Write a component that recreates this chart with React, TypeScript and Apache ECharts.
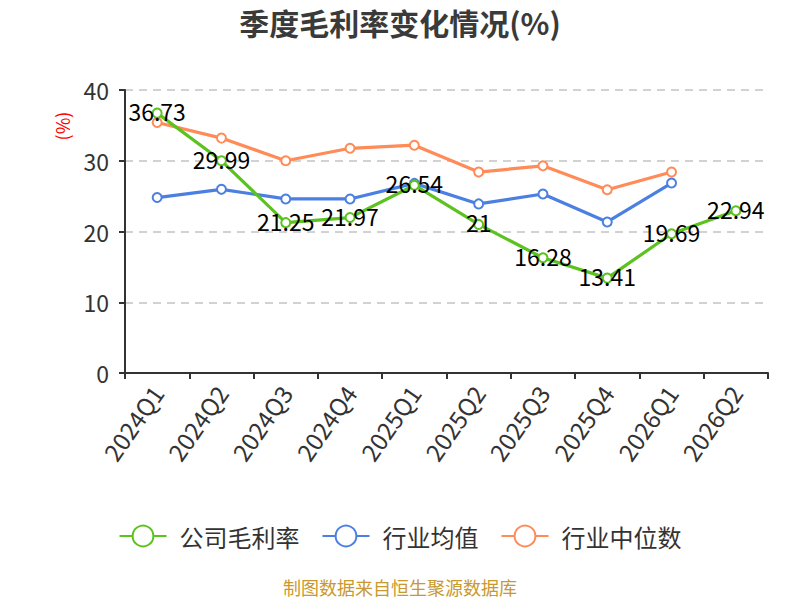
import React, { useEffect, useRef } from "react";
import * as echarts from "echarts";

const categories = ["2024Q1", "2024Q2", "2024Q3", "2024Q4", "2025Q1", "2025Q2", "2025Q3", "2025Q4", "2026Q1", "2026Q2"];
const companyMargin = [36.73, 29.99, 21.25, 21.97, 26.54, 21, 16.28, 13.41, 19.69, 22.94];
const industryAvg = [24.8, 25.96, 24.6, 24.6, 26.8, 23.9, 25.3, 21.35, 26.85, null];
const industryMedian = [35.4, 33.2, 30.0, 31.76, 32.2, 28.4, 29.28, 25.9, 28.4, null];
const seriesNames = ["公司毛利率", "行业均值", "行业中位数"];
const colors = ["#5bc21e", "#4b80e2", "#fe8b58"];

const FONT = "'Noto Sans CJK SC', 'Noto Sans', sans-serif";

export default function App() {
  const ref = useRef<HTMLDivElement>(null);
  useEffect(() => {
    if (!ref.current) return;
    const chart = echarts.init(ref.current, null, { renderer: "svg" });
    const mkSeries = (name: string, data: any[], color: string, label: boolean) => ({
      name,
      type: "line",
      data,
      symbol: "emptyCircle",
      symbolSize: 9,
      lineStyle: { width: 3.2, color },
      itemStyle: { color, borderWidth: 2 },
      label: label
        ? { show: true, position: "inside", offset: [0, -2], color: "#000", fontSize: 23, fontFamily: FONT }
        : { show: false },
      z: label ? 3 : 2,
    });
    chart.setOption({
      animation: false,
      textStyle: { fontFamily: FONT },
      title: {
        text: "季度毛利率变化情况(%)",
        left: "center",
        top: 2,
        textStyle: { fontSize: 30, fontWeight: "bold", color: "#3a3a3a", fontFamily: FONT },
      },
      legend: {
        top: 519,
        left: "center",
        itemWidth: 47,
        itemHeight: 26,
        itemGap: 22,
        textStyle: { fontSize: 24, color: "#333", fontFamily: FONT, padding: [0, 0, 0, 8] },
        data: seriesNames,
      },
      grid: { left: 125, right: 32, top: 90, bottom: 227, containLabel: false },
      xAxis: {
        type: "category",
        data: categories,
        boundaryGap: true,
        axisLine: { lineStyle: { color: "#333", width: 2 } },
        axisTick: { show: true, alignWithLabel: false, lineStyle: { color: "#333", width: 2 }, length: 6 },
        axisLabel: { rotate: 55, fontSize: 24, color: "#333", margin: 15, interval: 0, fontFamily: FONT },
      },
      yAxis: {
        type: "value",
        min: 0,
        max: 40,
        interval: 10,
        axisLine: { show: true, lineStyle: { color: "#333", width: 2 } },
        axisTick: { show: true, lineStyle: { color: "#333", width: 2 }, length: 6 },
        axisLabel: { fontSize: 23, color: "#333", margin: 16, fontFamily: FONT },
        splitLine: { show: true, lineStyle: { type: [8, 6], color: "#c4c4c4", width: 1.5 } },
      },
      graphic: [
        {
          type: "text",
          x: 62,
          y: 126,
          rotation: Math.PI / 2,
          style: { text: "(%)", fill: "#ff0000", fontSize: 18, fontFamily: FONT, textAlign: "center", textVerticalAlign: "middle" },
        },
        {
          type: "text",
          left: "center",
          top: 578,
          style: { text: "制图数据来自恒生聚源数据库", fill: "#c9982f", fontSize: 18, fontFamily: FONT },
        },
      ],
      series: [
        mkSeries(seriesNames[0], companyMargin, colors[0], true),
        mkSeries(seriesNames[1], industryAvg, colors[1], false),
        mkSeries(seriesNames[2], industryMedian, colors[2], false),
      ],
    });
    return () => chart.dispose();
  }, []);
  return <div ref={ref} style={{ position: "fixed", left: 0, top: 0, width: 800, height: 600, background: "#fff" }} />;
}
